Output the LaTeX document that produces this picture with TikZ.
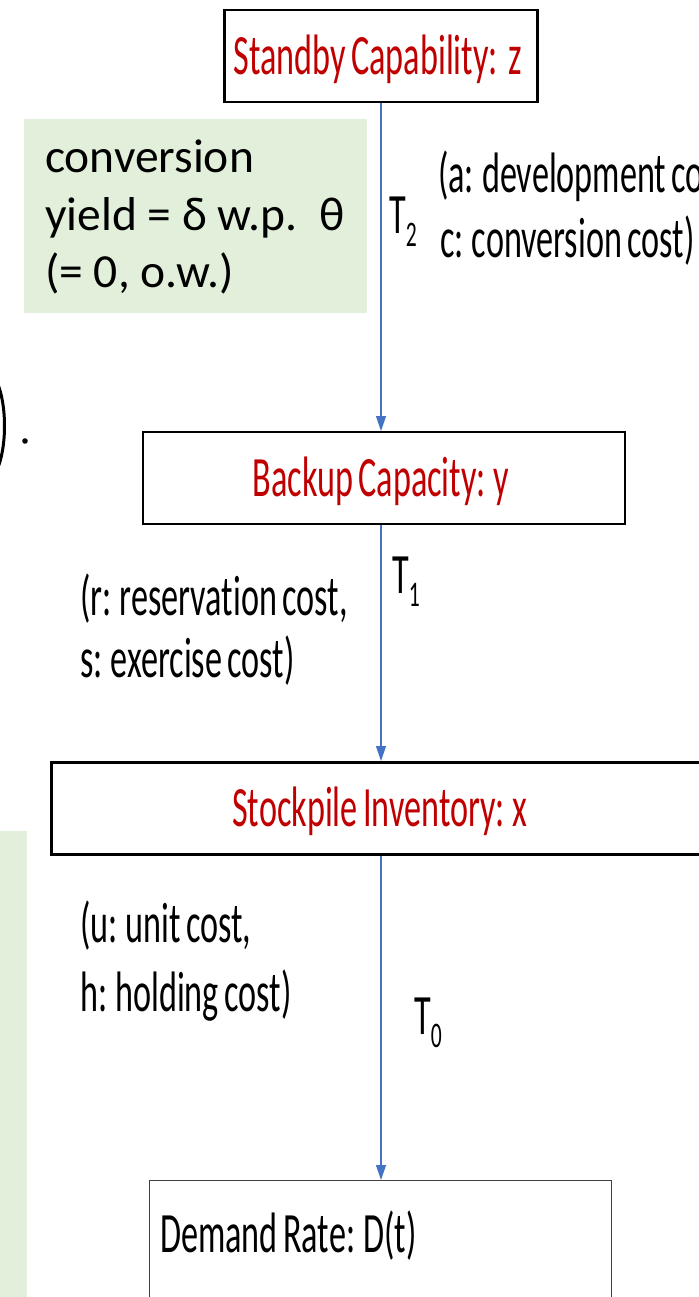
\documentclass[tikz,border=0pt]{standalone}
\usepackage{fontspec}
\usetikzlibrary{arrows.meta}
\newfontfamily\condf[FakeStretch=0.6,Ligatures=NoCommon,WordSpace=0.7]{Carlito}
\newfontfamily\regf{Carlito}
\definecolor{redtxt}{HTML}{C00000}
\definecolor{greenbg}{HTML}{E2EFDA}
\definecolor{arrblue}{HTML}{4472C4}
\tikzset{
  cond/.style={font=\condf\fontsize{57}{68}\selectfont, inner sep=0pt, anchor=west},
  condc/.style={font=\condf\fontsize{57}{68}\selectfont, inner sep=0pt},
  boxn/.style={draw=black, line width=2.5pt, inner sep=0pt},
  arr/.style={draw=arrblue, line width=1.2pt, -{Triangle[length=15pt,width=10pt]}},
  greentxt/.style={font=\regf\fontsize{47.5}{57}\selectfont, inner sep=0pt, anchor=base west},
}
\newcommand{\Tsub}[1]{T\raisebox{-13pt}{\fontsize{36}{36}\selectfont #1}}
\begin{document}
\begin{tikzpicture}[x=1pt,y=-1pt]
\useasboundingbox (0,0) rectangle (698,1297);
% left green strip and partial paren
\fill[greenbg] (0,831) rectangle (27,1297);
\draw[line width=3pt] (-3,382) .. controls (7,405) and (7,447) .. (-3,470);
\fill (25,441) circle (2.8);
% green box
\node[fill=greenbg, minimum width=343pt, minimum height=194pt, anchor=north west, inner sep=0pt] (gbox) at (24,119) {};
\node[greentxt] (g1) at (45,173) {conversion};
\node[greentxt] (g2) at (45,230) {yield = δ w.p.\ \ θ};
\node[greentxt] (g3) at (45,287) {(= 0, o.w.)};
% boxes
\node[boxn, minimum width=313pt, minimum height=92pt, anchor=north west] (z) at (223,9) {};
\node[condc, text=redtxt] (zt) at (378,59) {Standby Capability:\ \ z};
\node[boxn, line width=2pt, minimum width=482pt, minimum height=92pt, anchor=north west] (y) at (142,431) {};
\node[condc, text=redtxt] (yt) at (381,481) {Backup Capacity: y};
\node[boxn, minimum width=660pt, minimum height=92pt, anchor=north west] (x) at (50,761) {};
\node[condc, text=redtxt] (xt) at (380,811) {Stockpile Inventory: x};
\node[draw=black!75, line width=1pt, minimum width=462pt, minimum height=160pt, anchor=north west, inner sep=0pt] (d) at (149,1180) {};
\node[cond] (dt) at (160,1236) {Demand Rate: D(t)};
% connectors
\coordinate (ax) at (381,0);
\draw[arr] (z.south -| ax) -- (y.north -| ax);
\draw[arr] (y.south -| ax) -- (x.north -| ax);
\draw[arr] (x.south -| ax) -- (d.north -| ax);
% labels
\node[cond] (t2) at (389,222) {\Tsub{2}};
\node[cond] (a1) at (438,176) {(a: development co};
\node[cond] (a2) at (440,241) {c: conversion cost)};
\node[cond] (t1) at (392,582) {\Tsub{1}};
\node[cond] (r1) at (80,599) {(r: reservation cost,};
\node[cond] (r2) at (80,661) {s: exercise cost)};
\node[cond] (u1) at (80,926) {(u: unit cost,};
\node[cond] (u2) at (80,996) {h: holding cost)};
\node[cond] (t0) at (414,1023) {\Tsub{0}};
\end{tikzpicture}
\end{document}
